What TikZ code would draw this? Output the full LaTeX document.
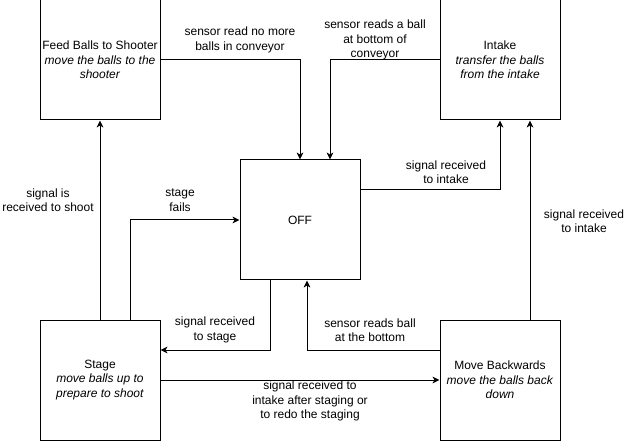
\documentclass[tikz,border=0pt]{standalone}
\usepackage{fontspec}
\setmainfont{Liberation Sans}
\usetikzlibrary{arrows.meta}

\begin{document}
\begin{tikzpicture}
		[
			x=0.75pt, y=-0.75pt,
			% Make a style for a state box.
			statebox/.style={draw, line width=0.75pt, minimum width=90pt, minimum height=90pt,
				inner sep=0pt, align=center, font=\fontsize{9}{10.8}\selectfont},
			% And one for the condition labels.
			cond/.style={inner sep=0pt, align=center, font=\fontsize{9}{10.8}\selectfont},
			% And one for the transitions.
			trans/.style={line width=0.75pt, -{Stealth[length=5.25pt, width=5pt, inset=1.5pt]}}
		]
			\useasboundingbox (0,0) rectangle (631,441);

			% The states.
			\node[statebox] (feed) at (100,60)
				{Feed Balls to Shooter\\\textit{move the balls to the}\\\textit{shooter}};
			\node[statebox] (intake) at (500,60)
				{Intake\\\textit{transfer the balls}\\\textit{from the intake}};
			\node[statebox] (off) at (300,220) {OFF};
			\node[statebox] (stage) at (100,380)
				{Stage\\\textit{move balls up to}\\\textit{prepare to shoot}};
			\node[statebox] (back) at (500,380)
				{Move Backwards\\\textit{move the balls back}\\\textit{down}};

			% Transitions.
			\draw[trans] (feed.east) -| (off.north);
			\draw[trans] (intake.west) -| ([xshift=22.5pt]off.north);
			\draw[trans] ([yshift=22.5pt]off.east) -| (intake.south);
			\draw[trans] ([xshift=22.5pt]back.north) -- ([xshift=22.5pt]intake.south);
			\draw[trans] (stage.north) -- (feed.south);
			\draw[trans] ([xshift=22.5pt]stage.north) |- (off.west);
			\draw[trans] ([xshift=-22.5pt]off.south) |- ([yshift=22.5pt]stage.east);
			\draw[trans] ([yshift=22.5pt]back.west) -| ([xshift=5.25pt]off.south);
			\draw[trans] (stage.east) -- (back.west);

			% Conditions.
			\node[cond] (noballs) at (240,40) {sensor read no more\\balls in conveyor};
			\node[cond] (ballbottom) at (375,40) {sensor reads a ball\\at bottom of\\conveyor};
			\node[cond] (tointake) at (446,172) {signal received\\to intake};
			\node[cond] (tointakeback) at (584,221) {signal received\\to intake};
			\node[cond] (toshoot) at (48,200) {signal is\\received to shoot};
			\node[cond] (fails) at (180,200) {stage\\fails};
			\node[cond] (tostage) at (215,330) {signal received\\to stage};
			\node[cond] (readsball) at (370,330) {sensor reads ball\\at the bottom};
			\node[cond] (redo) at (310,401) {signal received to\\intake after staging or\\to redo the staging};
		\end{tikzpicture}
\end{document}
